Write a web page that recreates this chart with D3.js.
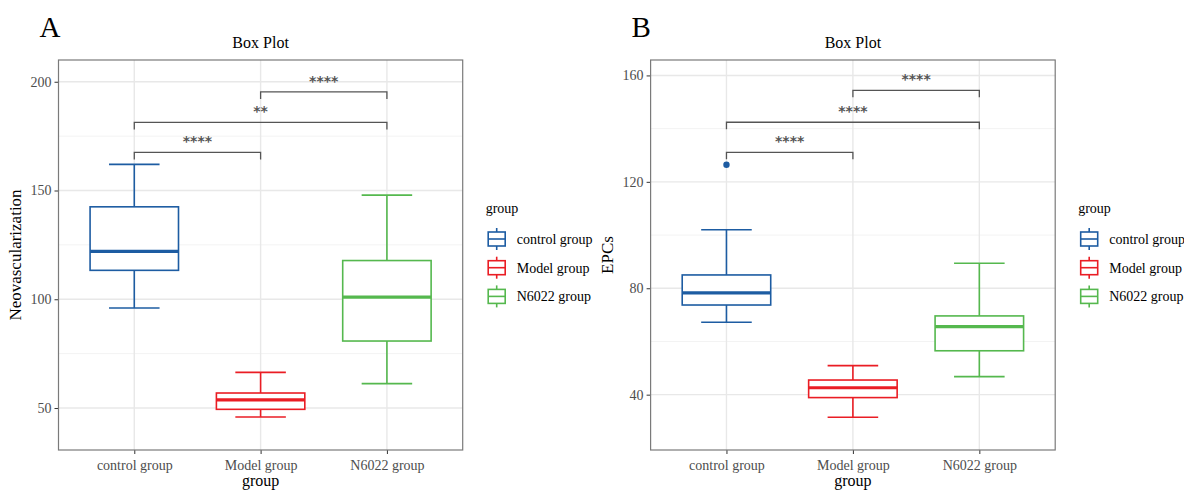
<!DOCTYPE html>
<html>
<head>
<meta charset="utf-8">
<script src="https://cdn.jsdelivr.net/npm/d3@7"></script>
<style>
  body { margin: 0; background: #fff; }
  svg { font-family: "Liberation Serif", "Times New Roman", serif; }
</style>
</head>
<body>
<svg id="chart" width="1184" height="492"></svg>
<script>
// groups and colours
const groups = ["control group", "Model group", "N6022 group"];
const colors = ["#1D5CA2", "#EA1D24", "#55B84E"];

// panel A: Neovascularization  [min, q1, median, q3, max]
const neoBox = [
  [96, 113.3, 122, 142.5, 162],
  [45.9, 49.4, 53.7, 56.9, 66.4],
  [61.2, 80.8, 101, 117.8, 147.9]
];
const neoOutliers = [];
const neoTicks = [50, 100, 150, 200];
const neoMinor = [75, 125, 175];
const neoSig = [
  { a: 0, b: 1, y: 167.5, label: "****" },
  { a: 0, b: 2, y: 181.3, label: "**" },
  { a: 1, b: 2, y: 195.3, label: "****" }
];

// panel B: EPCs
const epcBox = [
  [67.2, 73.7, 78.3, 85.0, 102],
  [31.5, 38.9, 42.6, 45.5, 50.9],
  [46.8, 56.5, 65.6, 69.6, 89.4]
];
const epcOutliers = [{ g: 0, v: 126.4 }];
const epcTicks = [40, 80, 120, 160];
const epcMinor = [60, 100, 140];
const epcSig = [
  { a: 0, b: 1, y: 131.1, label: "****" },
  { a: 0, b: 2, y: 142.4, label: "****" },
  { a: 1, b: 2, y: 154.4, label: "****" }
];

const svg = d3.select("#chart");

function panel(o) {
  const g = svg.append("g");
  const top = 60, bottom = 450;

  var x = d3.scalePoint()
    .domain(groups)
    .range([o.left, o.right])
    .padding(0.6);
  var step = x.step();

  var y = d3.scaleLinear()
    .domain(o.domain)
    .range([bottom, top]);

  // grid
  g.selectAll(".minor").data(o.minor).enter().append("line")
    .attr("x1", o.left).attr("x2", o.right)
    .attr("y1", d => y(d)).attr("y2", d => y(d))
    .attr("stroke", "#f3f3f3").attr("stroke-width", 1);
  g.selectAll(".major").data(o.ticks).enter().append("line")
    .attr("x1", o.left).attr("x2", o.right)
    .attr("y1", d => y(d)).attr("y2", d => y(d))
    .attr("stroke", "#e8e8e8").attr("stroke-width", 1.4);
  g.selectAll(".vgrid").data(groups).enter().append("line")
    .attr("x1", d => x(d)).attr("x2", d => x(d))
    .attr("y1", top).attr("y2", bottom)
    .attr("stroke", "#e8e8e8").attr("stroke-width", 1.4);

  // axes
  var ax = g.append("g")
    .attr("transform", "translate(0," + bottom + ")")
    .call(d3.axisBottom(x).tickSize(4).tickPadding(6));
  var ay = g.append("g")
    .attr("transform", "translate(" + o.left + ",0)")
    .call(d3.axisLeft(y).tickValues(o.ticks).tickSize(4).tickPadding(3));
  [ax, ay].forEach(a => {
    a.select(".domain").remove();
    a.selectAll(".tick line").attr("stroke", "#333");
    a.selectAll(".tick text")
      .attr("fill", "#4d4d4d")
      .style("font-size", "14px")
      .style("font-family", "Liberation Serif");
  });

  // boxes
  var bw = step * 0.7, cw = step * 0.4;
  var bg = g.selectAll(".box").data(o.data).enter().append("g")
    .attr("stroke", (d, i) => colors[i])
    .attr("fill", "none");
  bg.append("line") // whisker upper
    .attr("x1", (d, i) => x(groups[i])).attr("x2", (d, i) => x(groups[i]))
    .attr("y1", d => y(d[4])).attr("y2", d => y(d[3]))
    .attr("stroke-width", 1.6);
  bg.append("line") // whisker lower
    .attr("x1", (d, i) => x(groups[i])).attr("x2", (d, i) => x(groups[i]))
    .attr("y1", d => y(d[1])).attr("y2", d => y(d[0]))
    .attr("stroke-width", 1.6);
  bg.append("line")
    .attr("x1", (d, i) => x(groups[i]) - cw / 2).attr("x2", (d, i) => x(groups[i]) + cw / 2)
    .attr("y1", d => y(d[4])).attr("y2", d => y(d[4]))
    .attr("stroke-width", 1.6);
  bg.append("line")
    .attr("x1", (d, i) => x(groups[i]) - cw / 2).attr("x2", (d, i) => x(groups[i]) + cw / 2)
    .attr("y1", d => y(d[0])).attr("y2", d => y(d[0]))
    .attr("stroke-width", 1.6);
  bg.append("rect")
    .attr("x", (d, i) => x(groups[i]) - bw / 2)
    .attr("width", bw)
    .attr("y", d => y(d[3]))
    .attr("height", d => y(d[1]) - y(d[3]))
    .attr("fill", "#fff")
    .attr("stroke-width", 1.6);
  bg.append("line")
    .attr("x1", (d, i) => x(groups[i]) - bw / 2).attr("x2", (d, i) => x(groups[i]) + bw / 2)
    .attr("y1", d => y(d[2])).attr("y2", d => y(d[2]))
    .attr("stroke-width", 3.2);

  g.selectAll(".out").data(o.outliers).enter().append("circle")
    .attr("cx", d => x(groups[d.g])).attr("cy", d => y(d.v))
    .attr("r", 3.2).attr("fill", colors[0]);

  // significance brackets
  var tip = 7;
  var sg = g.selectAll(".sig").data(o.sig).enter().append("g");
  sg.append("path")
    .attr("d", d => "M" + x(groups[d.a]) + "," + (y(d.y) + tip) + "V" + y(d.y) +
      "H" + x(groups[d.b]) + "V" + (y(d.y) + tip))
    .attr("fill", "none").attr("stroke", "#555").attr("stroke-width", 1.3);
  sg.append("text")
    .attr("x", d => (x(groups[d.a]) + x(groups[d.b])) / 2)
    .attr("y", d => y(d.y) - 6)
    .attr("text-anchor", "middle")
    .attr("fill", "#555")
    .style("font-size", "14px")
    .style("font-family", "DejaVu Sans")
    .style("font-weight", "bold")
    .text(d => d.label);

  // panel border
  g.append("rect")
    .attr("x", o.left).attr("y", top)
    .attr("width", o.right - o.left).attr("height", bottom - top)
    .attr("fill", "none").attr("stroke", "#7a7a7a").attr("stroke-width", 1.2);

  // titles
  var cx = (o.left + o.right) / 2;
  g.append("text").attr("x", cx).attr("y", 48)
    .attr("text-anchor", "middle").style("font-size", "16px").text("Box Plot");
  g.append("text").attr("x", o.left - 19).attr("y", 37)
    .style("font-size", "29px").text(o.letter);
  g.append("text").attr("x", cx).attr("y", 486)
    .attr("text-anchor", "middle").style("font-size", "16px").text("group");
  g.append("text")
    .attr("transform", "translate(" + (o.left - 38) + "," + ((top + bottom) / 2) + ") rotate(-90)")
    .attr("text-anchor", "middle").style("font-size", "17px").text(o.ylab);

  // legend
  var lx = o.right + 23;
  g.append("text").attr("x", lx).attr("y", 213).style("font-size", "14px").text("group");
  var lg = g.selectAll(".leg").data(groups).enter().append("g")
    .attr("transform", (d, i) => "translate(" + (lx + 11) + "," + (239 + i * 28.7) + ")");
  lg.append("line").attr("x1", 0).attr("x2", 0).attr("y1", -11).attr("y2", 11)
    .attr("stroke", (d, i) => colors[i]).attr("stroke-width", 1.6);
  lg.append("rect").attr("x", -8.5).attr("y", -7).attr("width", 17).attr("height", 14)
    .attr("fill", "#fff").attr("stroke", (d, i) => colors[i]).attr("stroke-width", 1.6);
  lg.append("line").attr("x1", -8.5).attr("x2", 8.5).attr("y1", 0).attr("y2", 0)
    .attr("stroke", (d, i) => colors[i]).attr("stroke-width", 1.6);
  lg.append("text").attr("x", 20).attr("y", 5).style("font-size", "14px").text(d => d);
}

panel({ left: 58.5, right: 462.7, domain: [30.7, 210], ticks: neoTicks, minor: neoMinor,
  data: neoBox, outliers: neoOutliers, sig: neoSig, letter: "A", ylab: "Neovascularization" });
panel({ left: 650.6, right: 1055.2, domain: [19.2, 165.8], ticks: epcTicks, minor: epcMinor,
  data: epcBox, outliers: epcOutliers, sig: epcSig, letter: "B", ylab: "EPCs" });
</script>
</body>
</html>
